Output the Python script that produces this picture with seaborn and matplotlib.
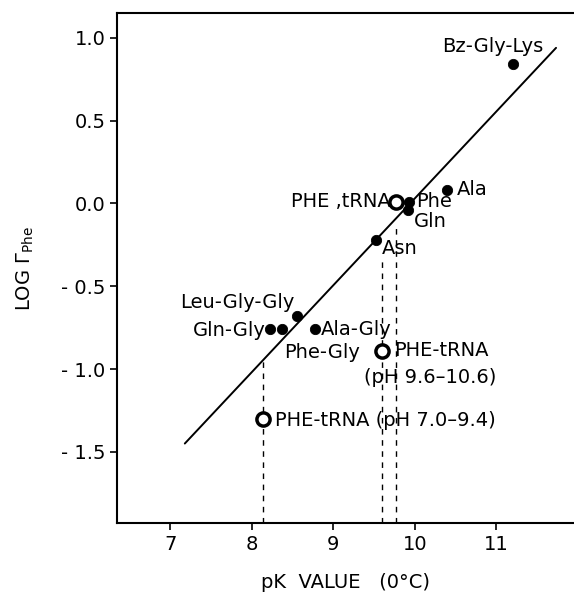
import matplotlib
matplotlib.use("Agg")
import matplotlib.pyplot as plt
import seaborn as sns
import pandas as pd

# filled points: compounds
names = ["Bz-Gly-Lys", "Ala", "Phe", "Gln", "Asn", "Leu-Gly-Gly",
         "Gln-Gly", "Gln-Gly", "Ala-Gly"]
pk = [11.2, 10.39, 9.93, 9.92, 9.52, 8.56, 8.22, 8.37, 8.78]
log_r = [0.84, 0.08, 0.01, -0.04, -0.22, -0.68, -0.76, -0.76, -0.76]

# open points: PHE-tRNA
trna_pk = [9.77, 9.60, 8.14]
trna_log_r = [0.01, -0.89, -1.30]

# regression line end points
fit_pk = [7.18, 11.73]
fit_log_r = [-1.45, 0.94]

# dashed drop lines (x, top)
drop_pk = [8.14, 9.60, 9.77]
drop_top = [-0.95, -0.35, -0.15]

xticks = [7, 8, 9, 10, 11]
yticks = [1.0, 0.5, 0.0, -0.5, -1.0, -1.5]

df = pd.DataFrame({"pk": pk, "log_r": log_r})
df_trna = pd.DataFrame({"pk": trna_pk, "log_r": trna_log_r})
df_fit = pd.DataFrame({"pk": fit_pk, "log_r": fit_log_r})

sns.set_style("ticks")
plt.rcParams["font.family"] = ["DejaVu Sans"]
plt.rcParams["mathtext.default"] = "regular"
plt.rcParams["text.color"] = "black"
plt.rcParams["axes.labelcolor"] = "black"
plt.rcParams["xtick.color"] = "black"
plt.rcParams["ytick.color"] = "black"
plt.rcParams["axes.edgecolor"] = "black"

fig = plt.figure(figsize=(5.74, 5.95), dpi=100)
ax = fig.add_axes([0.204, 0.121, 0.796, 0.857])

sns.lineplot(data=df_fit, x="pk", y="log_r", color="black", lw=1.4, ax=ax)
ax.vlines(drop_pk, -1.93, drop_top, colors="black", linestyles=(0, (4, 4)), lw=1.0)
sns.scatterplot(data=df, x="pk", y="log_r", color="black", s=55,
                edgecolor="black", ax=ax, zorder=3)
sns.scatterplot(data=df_trna, x="pk", y="log_r", facecolor="white", s=90,
                edgecolor="black", linewidth=2.5, ax=ax, zorder=4)

fs = 14
ax.text(10.33, 0.95, "Bz-Gly-Lys", fontsize=fs, va="center")
ax.text(10.51, 0.085, "Ala", fontsize=fs, va="center")
ax.text(10.02, 0.01, "Phe", fontsize=fs, va="center")
ax.text(9.99, -0.11, "Gln", fontsize=fs, va="center")
ax.text(9.59, -0.27, "Asn", fontsize=fs, va="center")
ax.text(9.70, 0.01, "PHE ,tRNA", fontsize=fs, va="center", ha="right")
ax.text(7.12, -0.60, "Leu-Gly-Gly", fontsize=fs, va="center")
ax.text(8.17, -0.77, "Gln-Gly", fontsize=fs, va="center", ha="right")
ax.text(8.85, -0.76, "Ala-Gly", fontsize=fs, va="center")
ax.text(8.40, -0.90, "Phe-Gly", fontsize=fs, va="center")
ax.text(9.74, -0.89, "PHE-tRNA", fontsize=fs, va="center")
ax.text(9.38, -1.05, "(pH 9.6\u201310.6)", fontsize=fs, va="center")
ax.text(8.28, -1.31, "PHE-tRNA (pH 7.0\u20139.4)", fontsize=fs, va="center")

ax.set_xlim(6.35, 11.95)
ax.set_ylim(-1.93, 1.15)
ax.set_xticks(xticks)
ax.set_yticks(yticks)
ax.set_yticklabels([f"{v:.1f}".replace("-", "- ") for v in yticks])
ax.tick_params(labelsize=fs, length=5, width=1.2, direction="out")
ax.set_xlabel("pK  VALUE   (0\u00b0C)", fontsize=fs, labelpad=14)
ax.set_ylabel(r"LOG $\Gamma_{Phe}$", fontsize=fs, labelpad=18)
for side in ["left", "bottom", "top"]:
    ax.spines[side].set_linewidth(1.5)
ax.spines["right"].set_visible(False)

fig.savefig("out.png", dpi=100)
